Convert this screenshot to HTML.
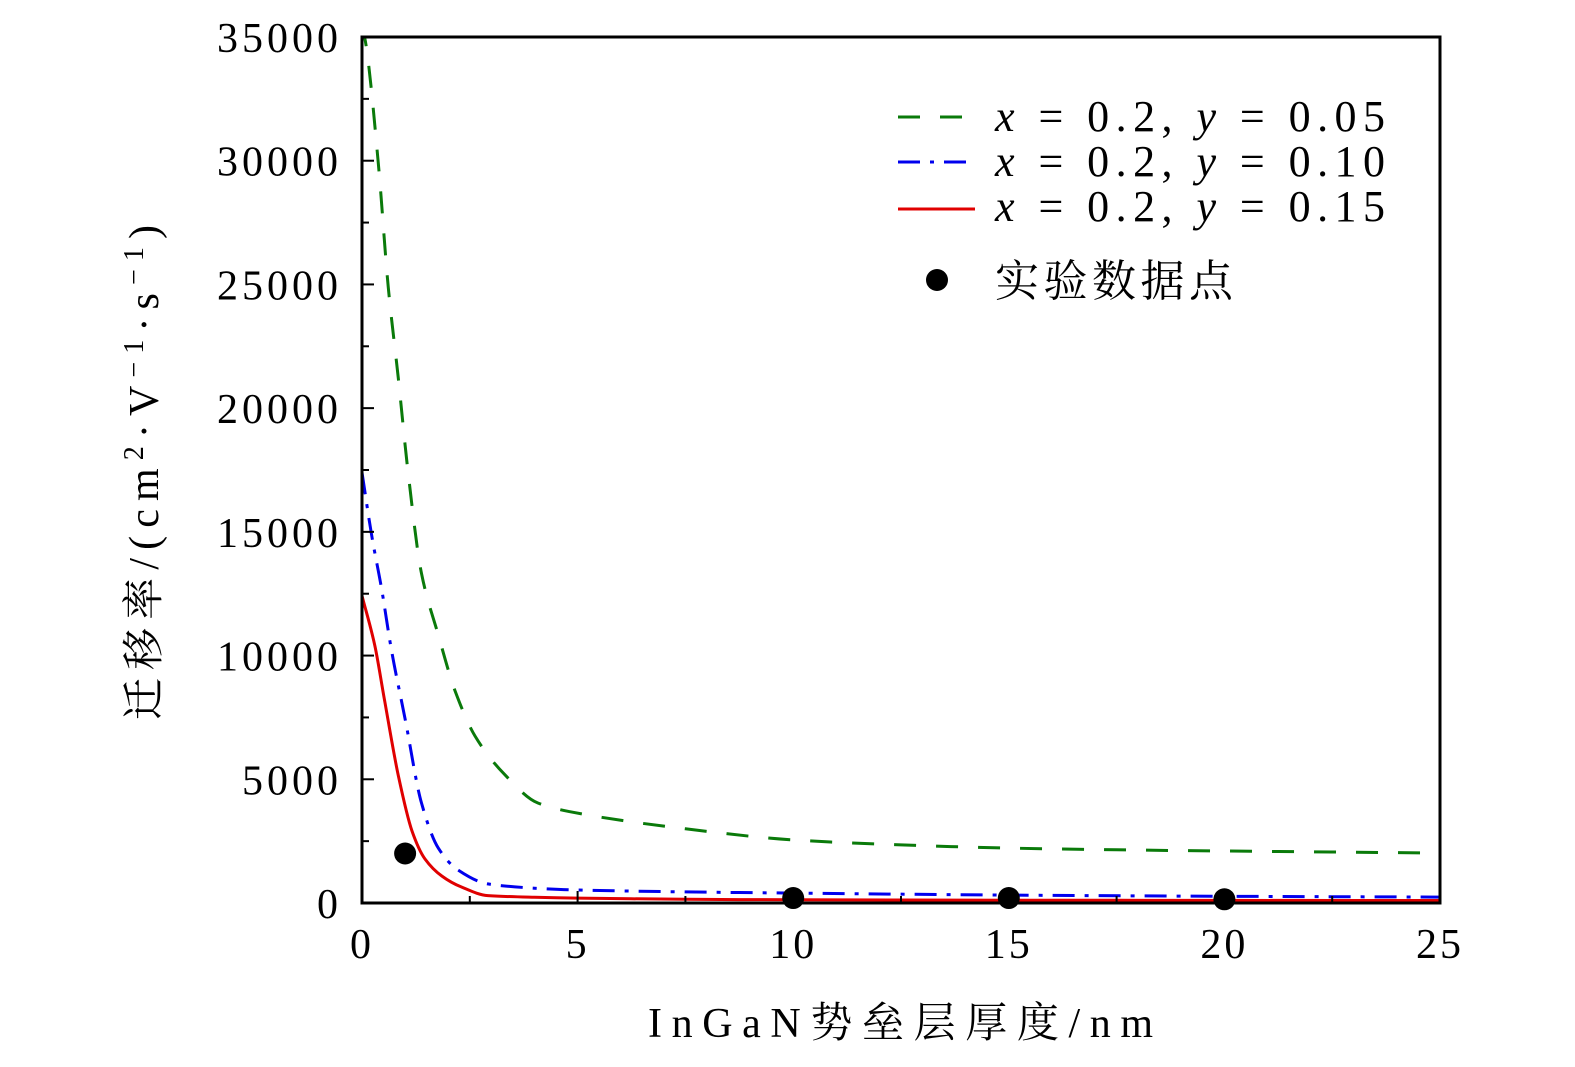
<!DOCTYPE html>
<html><head><meta charset="utf-8"><style>
html,body{margin:0;padding:0;background:#fff;}
svg{display:block;}
text{font-family:"Liberation Serif","Noto Serif CJK SC",serif;fill:#000;}
</style></head><body>
<svg id="chart" width="1575" height="1067" viewBox="0 0 1575 1067" xmlns="http://www.w3.org/2000/svg">
<g id="series"></g>
<g id="axes"></g>
<g id="legend">
  <line x1="898" y1="117" x2="975" y2="117" stroke="#0a7a0a" stroke-width="3" stroke-dasharray="22,20"/>
  <text x="995" y="131" font-size="44" textLength="390" lengthAdjust="spacing"><tspan font-style="italic">x</tspan> = 0.2,  <tspan font-style="italic">y</tspan> = 0.05</text>
  <line x1="898" y1="162" x2="975" y2="162" stroke="#0000ee" stroke-width="3" stroke-dasharray="22,10,4,10"/>
  <text x="995" y="176" font-size="44" textLength="390" lengthAdjust="spacing"><tspan font-style="italic">x</tspan> = 0.2,  <tspan font-style="italic">y</tspan> = 0.10</text>
  <line x1="898" y1="209" x2="975" y2="209" stroke="#e00000" stroke-width="3"/>
  <text x="995" y="221" font-size="44" textLength="390" lengthAdjust="spacing"><tspan font-style="italic">x</tspan> = 0.2,  <tspan font-style="italic">y</tspan> = 0.15</text>
  <circle cx="937" cy="280" r="11" fill="#000"/>
  <text x="995" y="296" font-size="44" textLength="238" lengthAdjust="spacing">实验数据点</text>
</g>
<text x="648" y="1037" font-size="42" textLength="505" lengthAdjust="spacing">InGaN势垒层厚度/nm</text>
<text transform="translate(158,720) rotate(-90)" font-size="42" textLength="495" lengthAdjust="spacing">迁移率/(cm<tspan font-size="28" dy="-15">2</tspan><tspan dy="15">·V</tspan><tspan font-size="28" dy="-15">−1</tspan><tspan dy="15">·s</tspan><tspan font-size="28" dy="-15">−1</tspan><tspan dy="15">)</tspan></text>
</svg>
<script>
const xTicks = [0, 5, 10, 15, 20, 25];
const yTicks = [0, 5000, 10000, 15000, 20000, 25000, 30000, 35000];
const greenX = [0, 0.1, 0.38, 0.61, 0.84, 1.07, 1.38, 1.77, 2.16, 2.62, 3.32, 4.08, 5.1, 7.5, 10, 12.5, 15, 17.5, 20, 22.5, 25];
const greenY = [35500, 34600, 29850, 24870, 21250, 17400, 13320, 10830, 8570, 6750, 5170, 4040, 3600, 3000, 2550, 2350, 2220, 2150, 2100, 2060, 2020];
const blueX = [0, 0.22, 0.46, 0.69, 1.0, 1.38, 1.77, 2.23, 2.92, 4, 5, 7.5, 10, 15, 20, 25];
const blueY = [17400, 14900, 12650, 10150, 7440, 4040, 2220, 1330, 770, 600, 525, 450, 400, 320, 270, 240];
const redX = [0, 0.3, 0.53, 0.84, 1.16, 1.46, 1.85, 2.3, 2.92, 4, 5, 7.5, 10, 15, 20, 25];
const redY = [12420, 10390, 8120, 5170, 2910, 1780, 1090, 650, 300, 230, 200, 150, 130, 115, 105, 100];
const expX = [1, 10, 15, 20];
const expY = [2000, 200, 200, 150];

const X0 = 362, X1 = 1440, Y0 = 903, Y1 = 37;
const sx = v => X0 + (v / 25) * (X1 - X0);
const sy = v => Y0 - (v / 35000) * (Y0 - Y1);
const NS = 'http://www.w3.org/2000/svg';
const mk = (t, a) => { const e = document.createElementNS(NS, t); for (const k in a) e.setAttribute(k, a[k]); return e; };

function monotonePath(px, py) {
  const n = px.length, d = [], m = new Array(n);
  for (let i = 0; i < n - 1; i++) d.push((py[i + 1] - py[i]) / (px[i + 1] - px[i]));
  m[0] = d[0]; m[n - 1] = d[n - 2];
  for (let i = 1; i < n - 1; i++) m[i] = (d[i - 1] * d[i] <= 0) ? 0 : 2 / (1 / d[i - 1] + 1 / d[i]);
  let s = 'M' + px[0].toFixed(1) + ',' + py[0].toFixed(1);
  for (let i = 0; i < n - 1; i++) {
    const h = (px[i + 1] - px[i]) / 3;
    s += ' C' + (px[i] + h).toFixed(1) + ',' + (py[i] + m[i] * h).toFixed(1) + ' ' + (px[i + 1] - h).toFixed(1) + ',' + (py[i + 1] - m[i + 1] * h).toFixed(1) + ' ' + px[i + 1].toFixed(1) + ',' + py[i + 1].toFixed(1);
  }
  return s;
}

const series = document.getElementById('series');
const clip = mk('clipPath', {id: 'pc'});
clip.appendChild(mk('rect', {x: X0, y: Y1, width: X1 - X0, height: Y0 - Y1}));
series.appendChild(clip);
function line(xs, ys, color, dash, name) {
  const p = mk('path', {d: monotonePath(xs.map(sx), ys.map(sy)), fill: 'none', stroke: color, 'stroke-width': 3, 'clip-path': 'url(#pc)'});
  if (dash) p.setAttribute('stroke-dasharray', dash);
  
  
  series.appendChild(p);
}
line(greenX, greenY, '#0a7a0a', '22,20', 'series-y005-line');
line(blueX, blueY, '#0000ee', '22,10,4,10', 'series-y010-line');
line(redX, redY, '#e00000', null, 'series-y015-line');
expX.forEach((x, i) => {
  const c = mk('circle', {cx: sx(x), cy: sy(expY[i]), r: 11, fill: '#000'});
  
  
  series.appendChild(c);
});

const axes = document.getElementById('axes');
const frame = mk('rect', {x: X0, y: Y1, width: X1 - X0, height: Y0 - Y1, fill: 'none', stroke: '#000', 'stroke-width': 3});


axes.appendChild(frame);
xTicks.forEach(v => {
  axes.appendChild(mk('line', {x1: sx(v), y1: Y0, x2: sx(v), y2: Y0 - 12, stroke: '#000', 'stroke-width': 2}));
  const t = mk('text', {x: sx(v), y: 958, 'font-size': 42, 'text-anchor': 'middle', 'letter-spacing': 3});
  t.textContent = v;
  
  
  axes.appendChild(t);
});
for (let v = 2.5; v < 25; v += 5) axes.appendChild(mk('line', {x1: sx(v), y1: Y0, x2: sx(v), y2: Y0 - 7, stroke: '#000', 'stroke-width': 2}));
yTicks.forEach(v => {
  axes.appendChild(mk('line', {x1: X0, y1: sy(v), x2: X0 + 12, y2: sy(v), stroke: '#000', 'stroke-width': 2}));
  const t = mk('text', {x: 342, y: sy(v) + 15, 'font-size': 42, 'text-anchor': 'end', 'letter-spacing': 4});
  t.textContent = v;
  
  
  axes.appendChild(t);
});
for (let v = 2500; v < 35000; v += 5000) axes.appendChild(mk('line', {x1: X0, y1: sy(v), x2: X0 + 7, y2: sy(v), stroke: '#000', 'stroke-width': 2}));
</script>
</body></html>
